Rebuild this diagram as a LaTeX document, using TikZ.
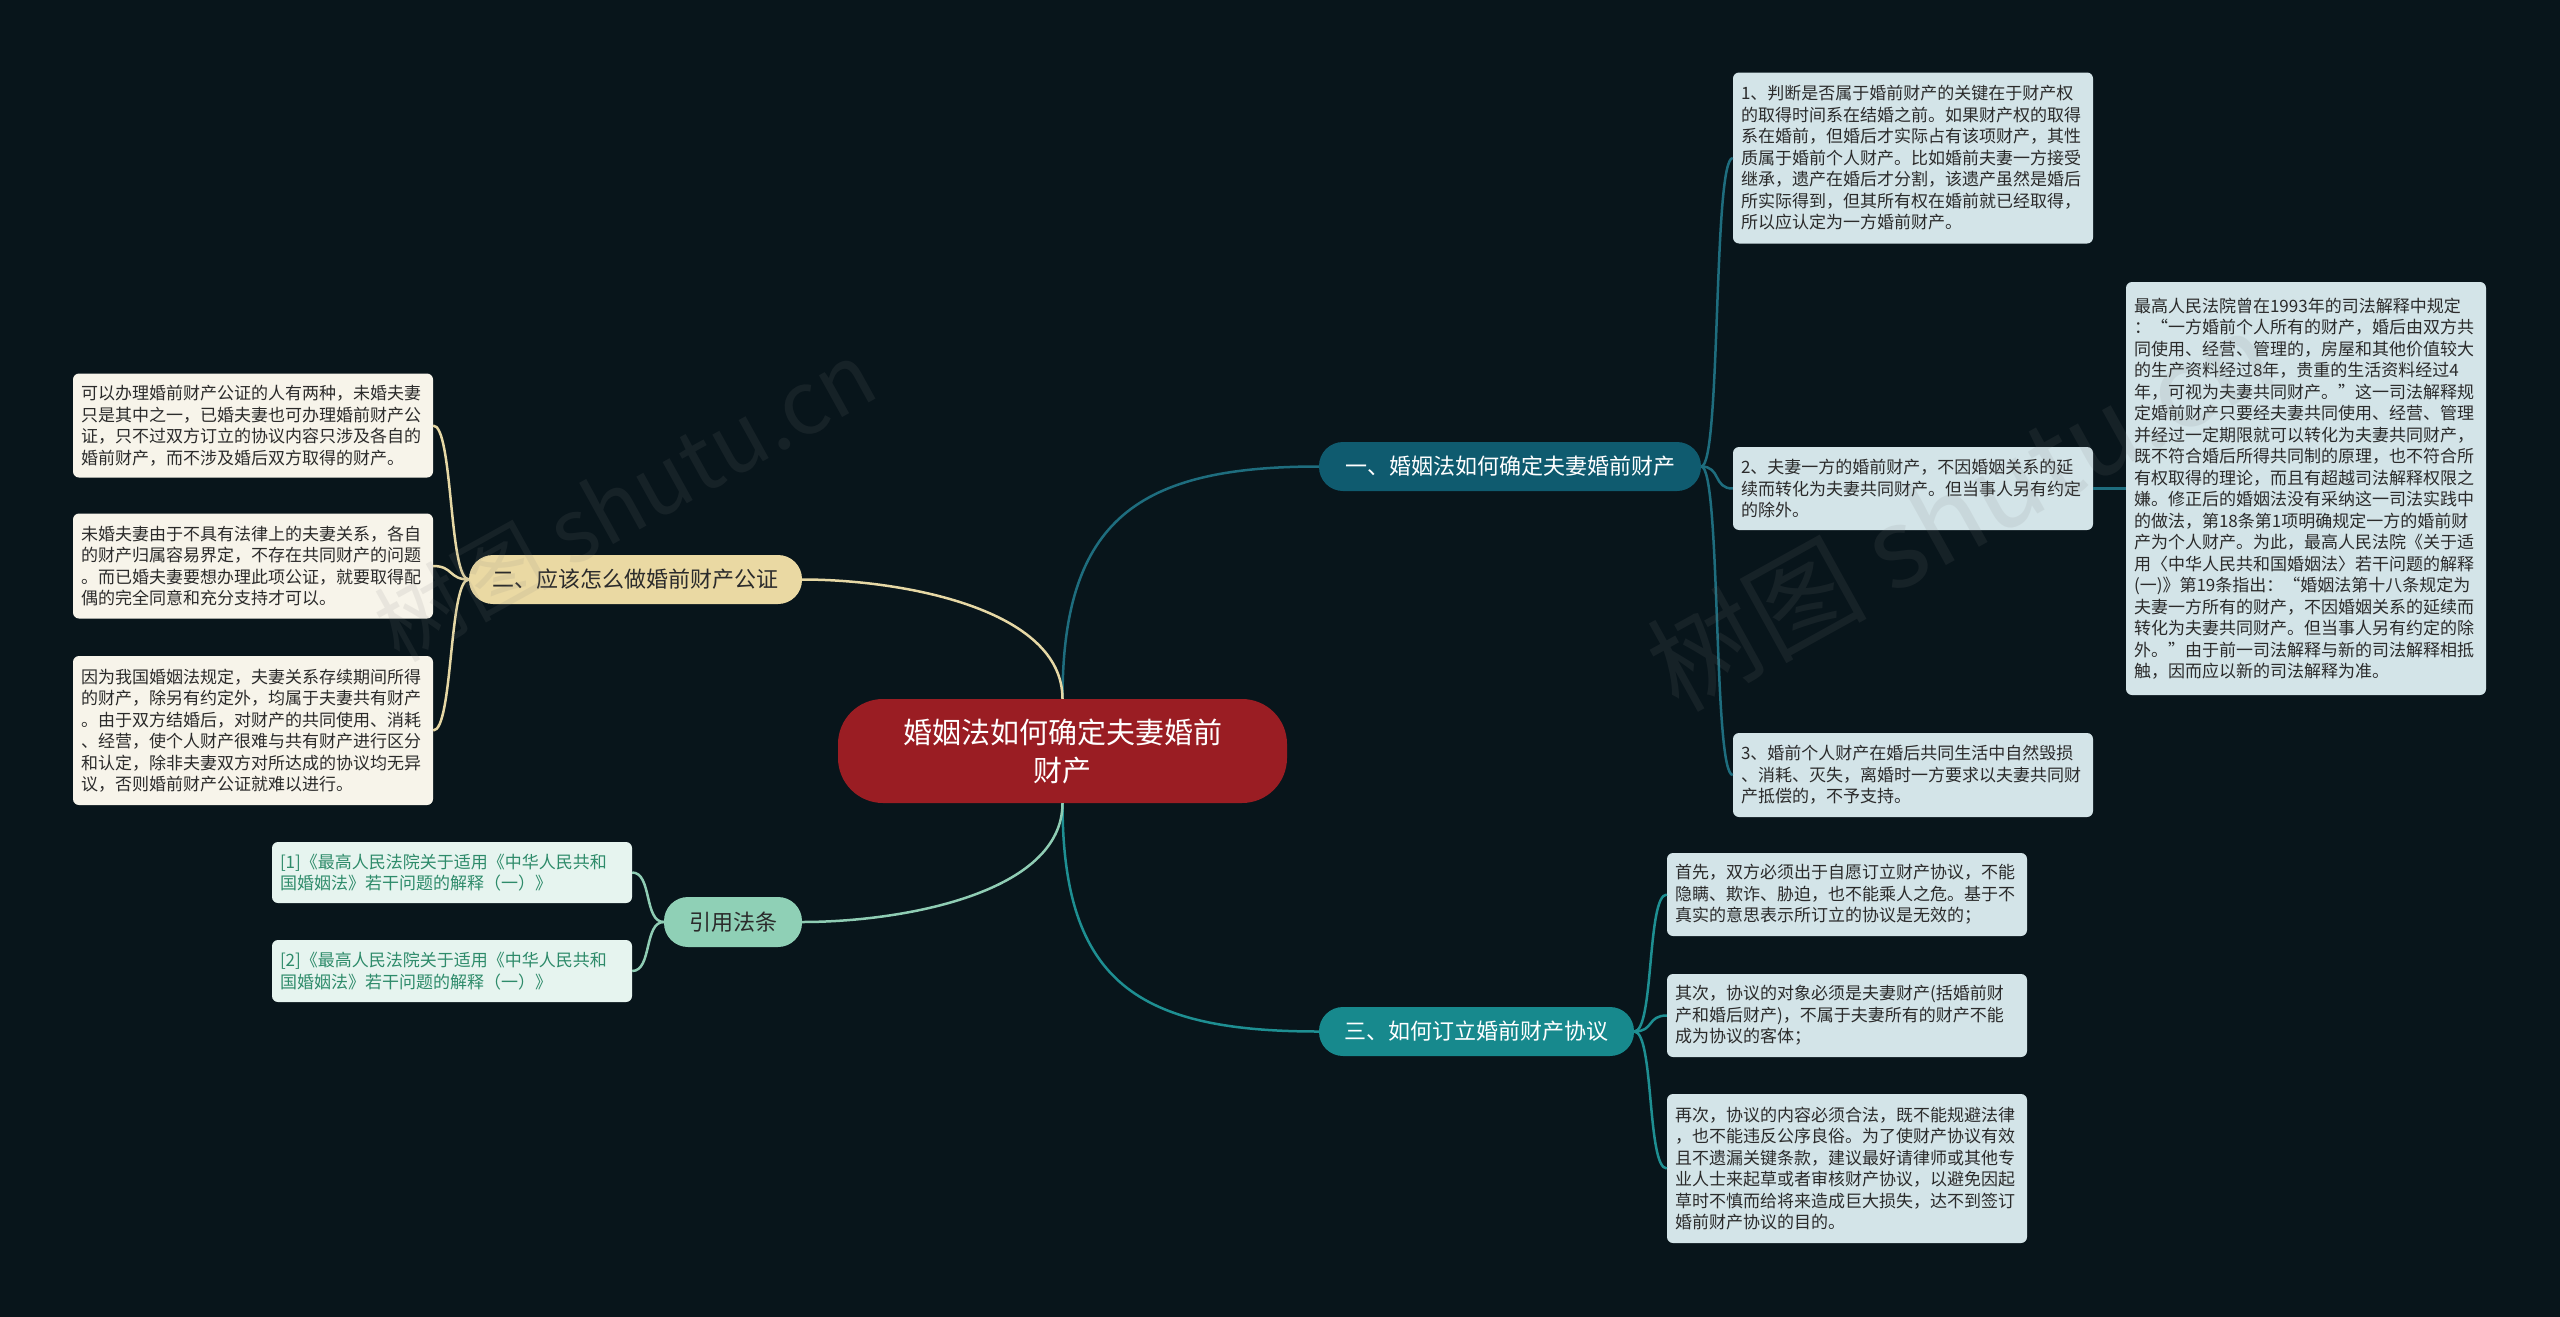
\documentclass[tikz,border=0pt]{standalone}
\usepackage{fontspec}
\setmainfont{Noto Sans CJK SC}
\definecolor{bg}{HTML}{08151B}
\definecolor{rootc}{HTML}{9A1D23}
\definecolor{bonec}{HTML}{0F5B6F}
\definecolor{bthreec}{HTML}{17898D}
\definecolor{btwoc}{HTML}{EAD9A3}
\definecolor{brefc}{HTML}{8FD0B6}
\definecolor{leafr}{HTML}{D3E4E8}
\definecolor{leafl}{HTML}{F7F4EA}
\definecolor{leafref}{HTML}{E6F4EF}
\definecolor{reftext}{HTML}{2E8B6A}
\definecolor{lone}{HTML}{1E6D7E}
\definecolor{lthree}{HTML}{1E8F92}
\definecolor{ltwo}{HTML}{E6D8A5}
\definecolor{lref}{HTML}{8FCDB4}
\definecolor{dtext}{HTML}{2B2B2B}
\tikzset{
  leafbox/.style={rectangle, rounded corners=6pt, inner xsep=8pt, inner ysep=4pt,
    text width=344pt, align=left, minimum width=360pt, text=dtext,
    font=\fontsize{17}{21.5}\selectfont},
  leafR/.style={leafbox, fill=leafr},
  leafL/.style={leafbox, fill=leafl},
  leafRef/.style={leafbox, fill=leafref, text=reftext},
  branch/.style={rectangle, rounded corners=24pt, minimum height=49pt, inner sep=0pt,
    font=\fontsize{22}{26}\selectfont},
  conn/.style={line width=2.5pt},
  wmark/.style={text=gray, opacity=0.12, rotate=29}
}
\begin{document}
\begin{tikzpicture}[x=1pt,y=-1pt]
\fill[bg] (0,0) rectangle (2560,1317);
\useasboundingbox (0,0) rectangle (2560,1317);

% root
\node[rectangle, rounded corners=45pt, fill=rootc, text=white, minimum width=449pt, minimum height=104pt,
  align=center, font=\fontsize{29}{38}\selectfont] (root) at (1062.5,751) {婚姻法如何确定夫妻婚前\\财产};

% branches
\node[branch, fill=bonec, text=white, minimum width=382pt] (b1) at (1510,466.5) {一、婚姻法如何确定夫妻婚前财产};
\node[branch, fill=bthreec, text=white, minimum width=315pt] (b3) at (1476.5,1031.5) {三、如何订立婚前财产协议};
\node[branch, fill=btwoc, text=dtext, minimum width=333pt] (b2) at (635.5,579.5) {二、应该怎么做婚前财产公证};
\node[branch, fill=brefc, text=dtext, minimum width=138pt, minimum height=50pt] (bref) at (733,922) {引用法条};

% right leaves, branch 1
\node[leafR, minimum height=171pt] (l1a) at (1913,158) {1、判断是否属于婚前财产的关键在于财产权\\的取得时间系在结婚之前。如果财产权的取得\\系在婚前，但婚后才实际占有该项财产，其性\\质属于婚前个人财产。比如婚前夫妻一方接受\\继承，遗产在婚后才分割，该遗产虽然是婚后\\所实际得到，但其所有权在婚前就已经取得，\\所以应认定为一方婚前财产。};
\node[leafR, minimum height=83pt] (l1b) at (1913,488.5) {2、夫妻一方的婚前财产，不因婚姻关系的延\\续而转化为夫妻共同财产。但当事人另有约定\\的除外。};
\node[leafR, minimum height=84pt] (l1c) at (1913,775) {3、婚前个人财产在婚后共同生活中自然毁损\\、消耗、灭失，离婚时一方要求以夫妻共同财\\产抵偿的，不予支持。};
\node[leafR, minimum height=413pt] (l1bx) at (2306,488.5) {最高人民法院曾在1993年的司法解释中规定\\：“一方婚前个人所有的财产，婚后由双方共\\同使用、经营、管理的，房屋和其他价值较大\\的生产资料经过8年，贵重的生活资料经过4\\年，可视为夫妻共同财产。”这一司法解释规\\定婚前财产只要经夫妻共同使用、经营、管理\\并经过一定期限就可以转化为夫妻共同财产，\\既不符合婚后所得共同制的原理，也不符合所\\有权取得的理论，而且有超越司法解释权限之\\嫌。修正后的婚姻法没有采纳这一司法实践中\\的做法，第18条第1项明确规定一方的婚前财\\产为个人财产。为此，最高人民法院《关于适\\用〈中华人民共和国婚姻法〉若干问题的解释\\(一)》第19条指出：“婚姻法第十八条规定为\\夫妻一方所有的财产，不因婚姻关系的延续而\\转化为夫妻共同财产。但当事人另有约定的除\\外。”由于前一司法解释与新的司法解释相抵\\触，因而应以新的司法解释为准。};

% right leaves, branch 3
\node[leafR, minimum height=83pt] (l3a) at (1847,894.5) {首先，双方必须出于自愿订立财产协议，不能\\隐瞒、欺诈、胁迫，也不能乘人之危。基于不\\真实的意思表示所订立的协议是无效的；};
\node[leafR, minimum height=83pt] (l3b) at (1847,1015.5) {其次，协议的对象必须是夫妻财产(括婚前财\\产和婚后财产)，不属于夫妻所有的财产不能\\成为协议的客体；};
\node[leafR, minimum height=149pt] (l3c) at (1847,1168.5) {再次，协议的内容必须合法，既不能规避法律\\，也不能违反公序良俗。为了使财产协议有效\\且不遗漏关键条款，建议最好请律师或其他专\\业人士来起草或者审核财产协议，以避免因起\\草时不慎而给将来造成巨大损失，达不到签订\\婚前财产协议的目的。};

% left leaves, branch 2
\node[leafL, minimum height=104pt] (l2a) at (253,425.5) {可以办理婚前财产公证的人有两种，未婚夫妻\\只是其中之一，已婚夫妻也可办理婚前财产公\\证，只不过双方订立的协议内容只涉及各自的\\婚前财产，而不涉及婚后双方取得的财产。};
\node[leafL, minimum height=105pt] (l2b) at (253,566) {未婚夫妻由于不具有法律上的夫妻关系，各自\\的财产归属容易界定，不存在共同财产的问题\\。而已婚夫妻要想办理此项公证，就要取得配\\偶的完全同意和充分支持才可以。};
\node[leafL, minimum height=149pt] (l2c) at (253,730.5) {因为我国婚姻法规定，夫妻关系存续期间所得\\的财产，除另有约定外，均属于夫妻共有财产\\。由于双方结婚后，对财产的共同使用、消耗\\、经营，使个人财产很难与共有财产进行区分\\和认定，除非夫妻双方对所达成的协议均无异\\议，否则婚前财产公证就难以进行。};

% reference leaves
\node[leafRef, minimum height=61pt] (r1) at (452,872.5) {[1]《最高人民法院关于适用《中华人民共和\\国婚姻法》若干问题的解释（一）》};
\node[leafRef, minimum height=62pt] (r2) at (452,971) {[2]《最高人民法院关于适用《中华人民共和\\国婚姻法》若干问题的解释（一）》};

% connectors root -> branches
\draw[conn, lone] (root.north) .. controls +(0,-180) and +(-180,0) .. (b1.west);
\draw[conn, lthree] (root.south) .. controls +(0,180) and +(-180,0) .. (b3.west);
\draw[conn, ltwo] (root.north) .. controls +(0,-90) and +(100,0) .. (b2.east);
\draw[conn, lref] (root.south) .. controls +(0,90) and +(100,0) .. (bref.east);

% branch 1 leaves
\draw[conn, lone] (b1.east) .. controls +(20,0) and +(-20,0) .. (l1a.west);
\draw[conn, lone] (b1.east) .. controls +(20,0) and +(-20,0) .. (l1b.west);
\draw[conn, lone] (b1.east) .. controls +(20,0) and +(-20,0) .. (l1c.west);
\draw[conn, lone] (l1b.east) -- (l1bx.west);

% branch 3 leaves
\draw[conn, lthree] (b3.east) .. controls +(20,0) and +(-20,0) .. (l3a.west);
\draw[conn, lthree] (b3.east) .. controls +(20,0) and +(-20,0) .. (l3b.west);
\draw[conn, lthree] (b3.east) .. controls +(20,0) and +(-20,0) .. (l3c.west);

% branch 2 leaves
\draw[conn, ltwo] (b2.west) .. controls +(-20,0) and +(20,0) .. (l2a.east);
\draw[conn, ltwo] (b2.west) .. controls +(-20,0) and +(20,0) .. (l2b.east);
\draw[conn, ltwo] (b2.west) .. controls +(-20,0) and +(20,0) .. (l2c.east);

% reference leaves
\draw[conn, lref] (bref.west) .. controls +(-20,0) and +(20,0) .. (r1.east);
\draw[conn, lref] (bref.west) .. controls +(-20,0) and +(20,0) .. (r2.east);

% watermarks
\node[wmark, font=\fontsize{88}{90}\selectfont] (wm1) at (625,500) {树图 shutu.cn};
\node[wmark, font=\fontsize{110}{112}\selectfont] (wm2) at (1960,510) {树图 shutu.cn};
\end{tikzpicture}
\end{document}
